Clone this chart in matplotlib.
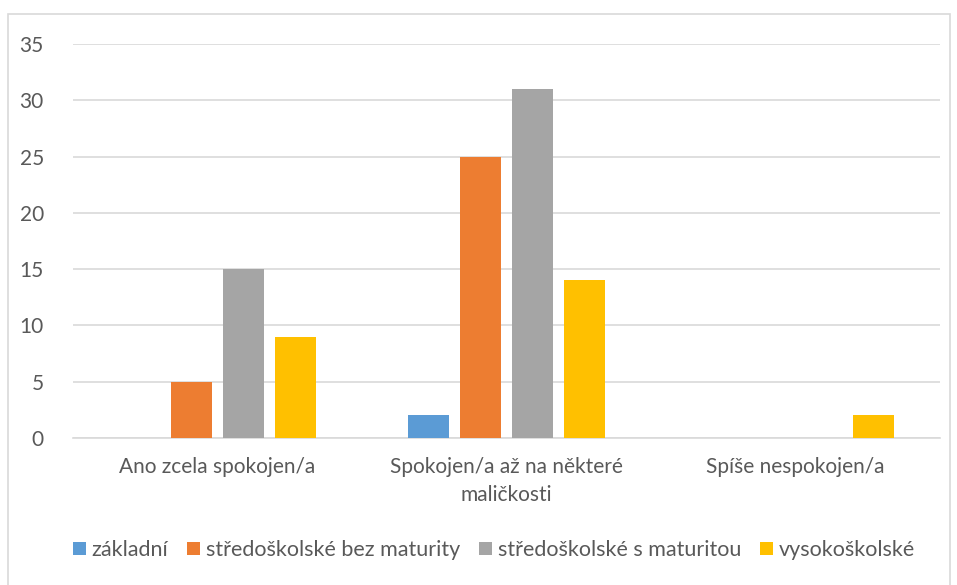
import matplotlib
matplotlib.use("Agg")
import matplotlib.pyplot as plt
import numpy as np
from matplotlib.patches import Rectangle

categories = ["Ano zcela spokojen/a", "Spokojen/a až na některé\nmaličkosti", "Spíše nespokojen/a"]
series_names = ["základní", "středoškolské bez maturity", "středoškolské s maturitou", "vysokoškolské"]
zakladni = [0, 2, 0]
bez_maturity = [5, 25, 0]
s_maturitou = [15, 31, 0]
vysokoskolske = [9, 14, 2]
colors = ["#5b9bd5", "#ed7d31", "#a5a5a5", "#ffc000"]
yticks = [0, 5, 10, 15, 20, 25, 30, 35]

plt.rcParams['font.family'] = ['Lato', 'DejaVu Sans']
txt = "#595959"
fs = 15

fig = plt.figure(figsize=(9.57, 5.85), dpi=100)
ax = fig.add_axes([73/957, 1-438/585, (940-73)/957, (438-44)/585])

data = [zakladni, bez_maturity, s_maturitou, vysokoskolske]
x = np.arange(len(categories))
bw = 41/289
step = 52/289
for i, (vals, c, name) in enumerate(zip(data, colors, series_names)):
    ax.bar(x + (i - 1.5)*step, vals, width=bw, color=c, label=name, zorder=3)

ax.set_xlim(-0.5, 2.5)
ax.set_ylim(0, 35)
ax.set_yticks(yticks)
ax.set_yticklabels([str(v) for v in yticks], fontsize=fs, color=txt)
ax.set_xticks(x)
ax.set_xticklabels(categories, fontsize=fs, color=txt, linespacing=1.45)
ax.tick_params(axis='both', length=0)
ax.tick_params(axis='y', pad=21)
ax.tick_params(axis='x', pad=14)
ax.grid(axis='y', color="#d9d9d9", linewidth=1.2, zorder=0)
for s in ['top', 'right', 'left']:
    ax.spines[s].set_visible(False)
ax.spines['bottom'].set_color("#d9d9d9")
ax.spines['bottom'].set_linewidth(1.2)

leg = fig.legend(loc='center', bbox_to_anchor=(494/957, 1-550/585), ncol=4, frameon=False,
                 fontsize=15.5, handlelength=0.6, handleheight=0.6, handletextpad=0.25,
                 columnspacing=0.9)
for t in leg.get_texts():
    t.set_color(txt)

fig.patches.append(Rectangle((8/957, -0.01), (950-8)/957, 1-14/585+0.01, transform=fig.transFigure,
                             fill=False, edgecolor="#d9d9d9", linewidth=1.2))

fig.savefig("out.png", dpi=100)
